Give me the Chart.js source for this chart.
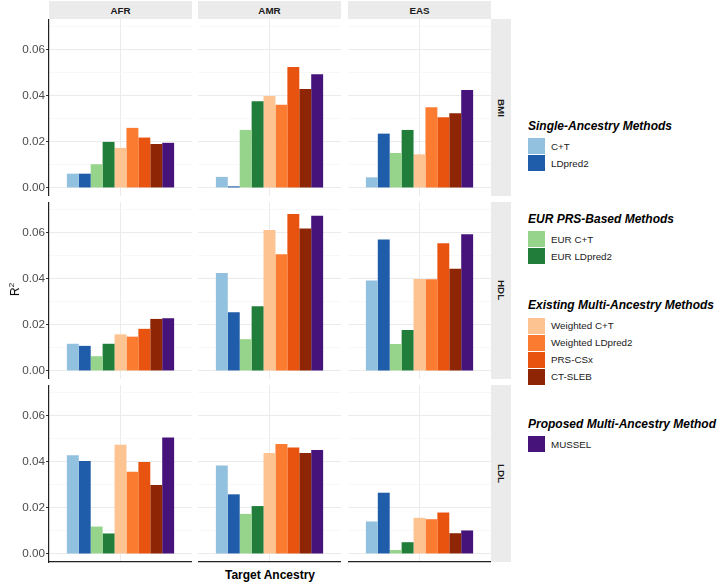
<!DOCTYPE html>
<html>
<head>
<meta charset="utf-8">
<script src="https://cdn.jsdelivr.net/npm/chart.js@4.4.1/dist/chart.umd.min.js"></script>
<style>
  body { margin:0; background:#fff; font-family:"Liberation Sans", Arial, sans-serif; }
  #wrap { position:relative; width:720px; height:584px; overflow:hidden; }
  #wrap canvas { position:absolute; }
  .strip { position:absolute; background:#ebebeb; color:#1a1a1a; font-weight:bold; font-size:9.8px;
           display:flex; align-items:center; justify-content:center; }
  .rstrip { writing-mode:vertical-rl; }
  .ltitle { position:absolute; left:528px; font-weight:bold; font-style:italic; font-size:12px;
            line-height:14px; color:#000; white-space:nowrap; }
  .key { position:absolute; left:528px; height:17px; display:flex; align-items:center;
         font-size:9.8px; color:#1a1a1a; white-space:nowrap; }
  .key i { display:inline-block; width:16.5px; height:16.5px; margin-right:6.5px; }
  .axtitle { position:absolute; font-weight:bold; font-size:12px; line-height:14px; color:#000; white-space:nowrap; }
  .ylab { position:absolute; font-size:12px; color:#000; transform:rotate(-90deg); transform-origin:center; white-space:nowrap; }
</style>
</head>
<body>
<div id="wrap"></div>
<script>
// --- data ---
const ancestries = ['AFR', 'AMR', 'EAS'];
const traits = ['BMI', 'HDL', 'LDL'];
const methods = ['C+T', 'LDpred2', 'EUR C+T', 'EUR LDpred2', 'Weighted C+T',
                 'Weighted LDpred2', 'PRS-CSx', 'CT-SLEB', 'MUSSEL'];
const methodColors = ['#92c0df', '#1f5ca9', '#95d48a', '#217e3a', '#fdc491',
                      '#fb7c31', '#e8540f', '#8e2606', '#45137a'];

const bmiAFR = [0.0062, 0.0062, 0.0103, 0.0200, 0.0174, 0.0261, 0.0219, 0.0191, 0.0196];
const bmiAMR = [0.0048, 0.0007, 0.0252, 0.0377, 0.0400, 0.0361, 0.0526, 0.0430, 0.0494];
const bmiEAS = [0.0046, 0.0236, 0.0152, 0.0252, 0.0146, 0.0351, 0.0307, 0.0325, 0.0425];
const hdlAFR = [0.0118, 0.0109, 0.0064, 0.0118, 0.0159, 0.0149, 0.0183, 0.0226, 0.0229];
const hdlAMR = [0.0425, 0.0255, 0.0138, 0.0281, 0.0612, 0.0507, 0.0682, 0.0619, 0.0674];
const hdlEAS = [0.0393, 0.0571, 0.0117, 0.0178, 0.0400, 0.0398, 0.0555, 0.0444, 0.0594];
const ldlAFR = [0.0429, 0.0404, 0.0119, 0.0089, 0.0474, 0.0357, 0.0400, 0.0299, 0.0506];
const ldlAMR = [0.0384, 0.0259, 0.0174, 0.0208, 0.0439, 0.0478, 0.0463, 0.0439, 0.0452];
const ldlEAS = [0.0141, 0.0266, 0.0017, 0.0051, 0.0157, 0.0151, 0.0180, 0.0090, 0.0102];

const legendGroups = [
  { title:'Single-Ancestry Methods',        members:[0, 1] },
  { title:'EUR PRS-Based Methods',          members:[2, 3] },
  { title:'Existing Multi-Ancestry Methods', members:[4, 5, 6, 7] },
  { title:'Proposed Multi-Ancestry Method',  members:[8] }
];

const panelValues = [
  [bmiAFR, bmiAMR, bmiEAS],
  [hdlAFR, hdlAMR, hdlEAS],
  [ldlAFR, ldlAMR, ldlEAS]
];

// --- layout ---
const FONT = '"Liberation Sans", Arial, sans-serif';
const colLeft = [49, 198, 348];
const panelW = 143;
const rowTop = [19, 202, 385];
const panelH = 177;
const yAxisW = 49;
const legendTop = [119, 211.5, 298, 417];
const keyTop = [137.5, 230.5, 317.3, 435.5];

const wrap = document.getElementById('wrap');
const isMajor = v => Math.round(v * 100) % 2 === 0;

function yScale(first){
  return {
    min:-0.0035, max:0.0734,
    ticks:{ display:first, stepSize:0.01, includeBounds:false, autoSkip:false, padding:1,
            color:'#4d4d4d', font:{ family:FONT, size:11.7 },
            callback:v => isMajor(v) ? v.toFixed(2) : '' },
    grid:{ color:c => isMajor(c.tick.value) ? '#ebebeb' : '#f5f5f5',
           lineWidth:c => isMajor(c.tick.value) ? 1 : 0.7,
           drawTicks:first, tickLength:3, tickWidth:1,
           tickColor:c => isMajor(c.tick.value) ? '#333' : 'rgba(0,0,0,0)' },
    border:{ display:first, color:'#222', width:1.2 },
    afterFit:s => { s.width = first ? yAxisW : 0; s.paddingTop = 0; s.paddingBottom = 0; }
  };
}

function xScale(bottom){
  return {
    grid:{ offset:false, color:'#ebebeb', lineWidth:1, drawTicks:false },
    ticks:{ display:false },
    border:{ display:bottom, color:'#222', width:1.2 },
    afterFit:s => { s.height = 0; s.paddingLeft = 0; s.paddingRight = 0; }
  };
}

traits.forEach((trait, r) => {
  ancestries.forEach((anc, c) => {
    const first = c === 0, bottom = r === 2;
    const cv = document.createElement('canvas');
    const w = first ? yAxisW + panelW : panelW;
    const h = bottom ? panelH + 2 : panelH;
    cv.width = w; cv.height = h;
    cv.style.width = w + 'px'; cv.style.height = h + 'px';
    cv.style.left = (first ? 0 : colLeft[c]) + 'px';
    cv.style.top = rowTop[r] + 'px';
    wrap.appendChild(cv);
    const vals = panelValues[r][c];
    new Chart(cv, {
      type:'bar',
      data:{ labels:[anc],
             datasets:methods.map((m, i) => ({ label:m, data:[vals[i]], backgroundColor:methodColors[i],
                                               borderWidth:0, categoryPercentage:0.75, barPercentage:1 })) },
      options:{
        responsive:false, animation:false, devicePixelRatio:1,
        layout:{ padding:{ top:0, left:0, right:0, bottom: bottom ? 2 : 0 } },
        plugins:{ legend:{ display:false }, tooltip:{ enabled:false } },
        scales:{ x:xScale(bottom), y:yScale(first) }
      }
    });
  });
});

// facet strips
ancestries.forEach((anc, c) => {
  const d = document.createElement('div');
  d.className = 'strip';
  d.style.cssText = `left:${colLeft[c]}px;top:1px;width:${panelW}px;height:18px;`;
  d.textContent = anc;
  wrap.appendChild(d);
});
traits.forEach((t, r) => {
  const d = document.createElement('div');
  d.className = 'strip rstrip';
  d.style.cssText = `left:491px;top:${rowTop[r]}px;width:20px;height:${panelH}px;`;
  d.textContent = t;
  wrap.appendChild(d);
});

// axis titles
const xt = document.createElement('div');
xt.className = 'axtitle';
xt.textContent = 'Target Ancestry';
xt.style.top = '568px';
wrap.appendChild(xt);
xt.style.left = (270 - xt.offsetWidth / 2) + 'px';

const yl = document.createElement('div');
yl.className = 'ylab';
yl.innerHTML = 'R<sup style="font-size:8px">2</sup>';
wrap.appendChild(yl);
yl.style.left = (14 - yl.offsetWidth / 2) + 'px';
yl.style.top = (289 - yl.offsetHeight / 2) + 'px';

// legend
legendGroups.forEach((g, k) => {
  const t = document.createElement('div');
  t.className = 'ltitle';
  t.style.top = legendTop[k] + 'px';
  t.textContent = g.title;
  wrap.appendChild(t);
  g.members.forEach((mi, j) => {
    const e = document.createElement('div');
    e.className = 'key';
    e.style.top = (keyTop[k] + j * 17) + 'px';
    e.innerHTML = `<i style="background:${methodColors[mi]}"></i>${methods[mi]}`;
    wrap.appendChild(e);
  });
});
</script>
</body>
</html>
